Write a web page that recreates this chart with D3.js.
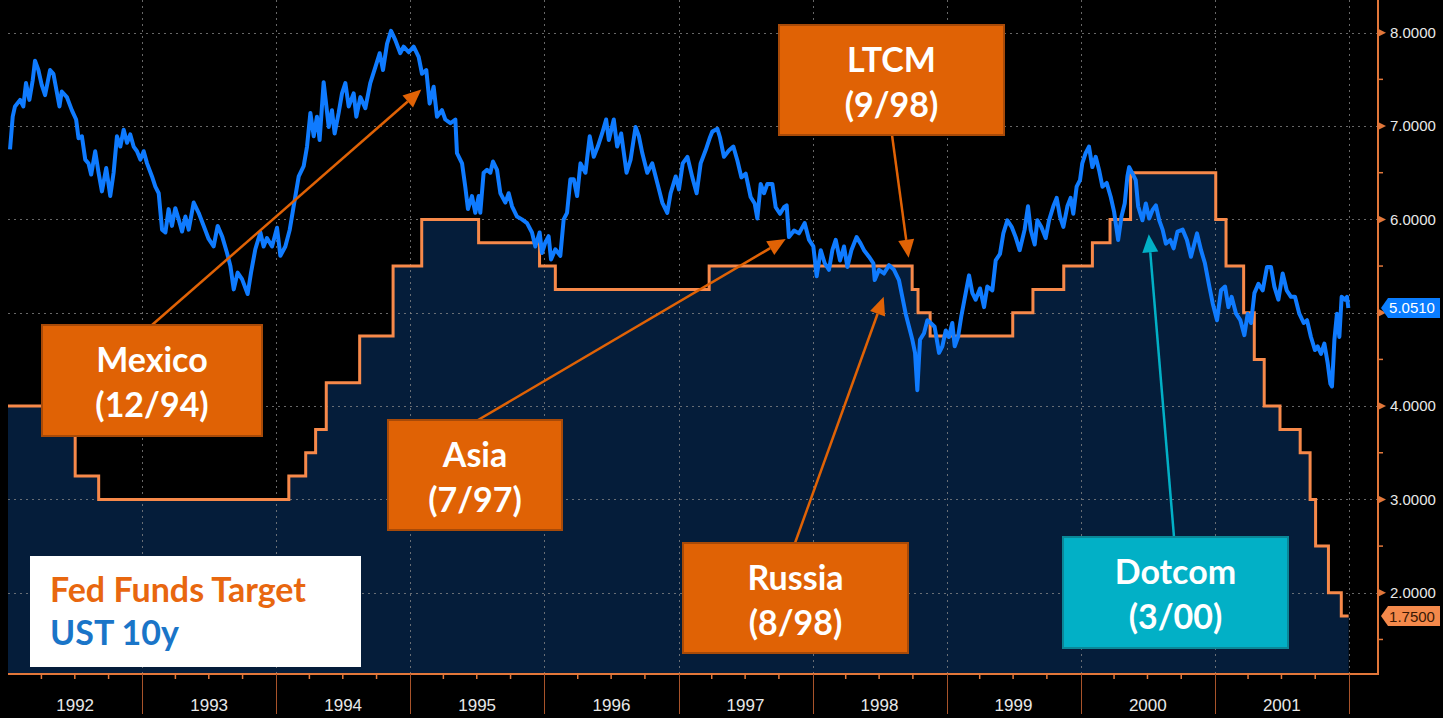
<!DOCTYPE html>
<html>
<head>
<meta charset="utf-8">
<script src="https://cdn.jsdelivr.net/npm/d3@7"></script>
<style>
  body { margin: 0; background: #000; }
  svg { display: block; }
</style>
</head>
<body>
<script>
// Fed funds target: date of each change and the new level (%)
const fedDates = ["1992-01-01","1992-07-02","1992-09-04","1994-02-04","1994-03-22","1994-04-18",
  "1994-05-17","1994-08-16","1994-11-15","1995-02-01","1995-07-06","1995-12-19","1996-01-31",
  "1997-03-25","1998-09-29","1998-10-15","1998-11-17","1999-06-30","1999-08-24","1999-11-16",
  "2000-02-02","2000-03-21","2000-05-16","2001-01-03","2001-01-31","2001-03-20","2001-04-18",
  "2001-05-15","2001-06-27","2001-08-21","2001-09-17","2001-10-02","2001-11-06","2001-12-11","2001-12-31"];
const fedRates = [4.00,3.25,3.00,3.25,3.50,3.75,4.25,4.75,5.50,6.00,5.75,5.50,5.25,5.50,5.25,5.00,
  4.75,5.00,5.25,5.50,5.75,6.00,6.50,6.00,5.50,5.00,4.50,4.00,3.75,3.50,3.00,2.50,2.00,1.75,1.75];

// UST 10y yield (decimal year, %)
const ustTimes = [1992.015,1992.035,1992.052,1992.090,1992.114,1992.134,1992.159,1992.184,1992.201,1992.226,
  1992.251,1992.276,1992.313,1992.338,1992.383,1992.400,1992.438,1992.475,1992.507,1992.525,1992.550,
  1992.575,1992.599,1992.619,1992.649,1992.674,1992.699,1992.731,1992.761,1992.786,1992.811,1992.836,
  1992.861,1992.886,1992.910,1992.935,1992.960,1992.985,1993.010,1993.035,1993.072,1993.097,1993.122,
  1993.147,1993.172,1993.196,1993.221,1993.246,1993.271,1993.296,1993.321,1993.346,1993.383,1993.420,
  1993.458,1993.495,1993.532,1993.562,1993.595,1993.632,1993.657,1993.682,1993.711,1993.744,1993.786,
  1993.811,1993.843,1993.881,1993.905,1993.930,1993.968,1994.005,1994.030,1994.067,1994.100,1994.129,
  1994.167,1994.204,1994.229,1994.254,1994.279,1994.303,1994.323,1994.353,1994.391,1994.415,1994.435,
  1994.465,1994.490,1994.515,1994.540,1994.577,1994.597,1994.627,1994.664,1994.701,1994.739,1994.771,
  1994.796,1994.826,1994.856,1994.888,1994.925,1994.950,1994.988,1995.025,1995.062,1995.087,1995.119,
  1995.144,1995.174,1995.199,1995.236,1995.261,1995.299,1995.336,1995.348,1995.386,1995.410,1995.430,
  1995.460,1995.485,1995.510,1995.522,1995.547,1995.572,1995.597,1995.617,1995.647,1995.672,1995.709,
  1995.734,1995.759,1995.796,1995.833,1995.871,1995.908,1995.933,1995.965,1995.983,1996.007,1996.032,
  1996.050,1996.082,1996.119,1996.144,1996.169,1996.194,1996.219,1996.244,1996.269,1996.306,1996.338,
  1996.368,1996.398,1996.430,1996.460,1996.480,1996.517,1996.542,1996.572,1996.612,1996.642,1996.679,
  1996.704,1996.729,1996.766,1996.803,1996.841,1996.878,1996.915,1996.940,1996.978,1997.002,1997.030,
  1997.065,1997.102,1997.134,1997.164,1997.201,1997.234,1997.251,1997.289,1997.308,1997.338,1997.376,
  1997.408,1997.438,1997.468,1997.500,1997.537,1997.567,1997.587,1997.612,1997.637,1997.662,1997.699,
  1997.724,1997.756,1997.786,1997.806,1997.823,1997.861,1997.898,1997.940,1997.973,1998.005,1998.030,
  1998.060,1998.090,1998.122,1998.147,1998.172,1998.204,1998.234,1998.259,1998.289,1998.328,1998.358,
  1998.383,1998.420,1998.453,1998.463,1998.495,1998.532,1998.570,1998.607,1998.644,1998.669,1998.694,
  1998.719,1998.744,1998.764,1998.781,1998.801,1998.831,1998.856,1998.881,1998.910,1998.943,1998.968,
  1998.993,1999.017,1999.042,1999.060,1999.085,1999.109,1999.142,1999.167,1999.192,1999.216,1999.249,
  1999.279,1999.303,1999.341,1999.366,1999.398,1999.423,1999.453,1999.485,1999.515,1999.545,1999.582,
  1999.607,1999.627,1999.657,1999.677,1999.706,1999.739,1999.764,1999.796,1999.821,1999.846,1999.871,
  1999.901,1999.925,1999.945,1999.970,1999.995,2000.012,2000.037,2000.062,2000.087,2000.112,2000.137,
  2000.162,2000.194,2000.224,2000.249,2000.279,2000.304,2000.328,2000.348,2000.361,2000.386,2000.410,
  2000.428,2000.460,2000.485,2000.510,2000.535,2000.560,2000.585,2000.610,2000.634,2000.667,2000.692,
  2000.721,2000.759,2000.791,2000.821,2000.866,2000.896,2000.925,2000.958,2000.983,2001.015,2001.045,
  2001.075,2001.100,2001.124,2001.157,2001.189,2001.219,2001.244,2001.269,2001.294,2001.324,2001.356,
  2001.388,2001.418,2001.443,2001.473,2001.505,2001.535,2001.567,2001.597,2001.629,2001.662,2001.687,
  2001.716,2001.746,2001.766,2001.791,2001.816,2001.841,2001.861,2001.873,2001.891,2001.910,2001.928,
  2001.945,2001.970,2001.985,2001.995];
const ustYields = [6.75,7.10,7.21,7.28,7.21,7.46,7.28,7.49,7.70,7.60,
  7.44,7.33,7.60,7.56,7.21,7.37,7.31,7.17,7.07,6.87,6.89,
  6.64,6.60,6.48,6.73,6.50,6.30,6.55,6.25,6.50,6.89,6.78,
  6.96,6.82,6.91,6.78,6.73,6.64,6.73,6.60,6.46,6.35,6.28,
  5.89,5.86,6.11,5.93,6.12,6.00,5.87,6.03,5.89,6.18,6.07,
  5.93,5.79,5.71,5.93,5.82,5.64,5.50,5.25,5.43,5.36,5.20,
  5.43,5.68,5.86,5.71,5.80,5.71,5.91,5.61,5.71,5.89,6.14,
  6.46,6.57,6.78,7.14,6.89,7.10,6.85,7.47,6.99,7.17,6.92,
  7.14,7.35,7.46,7.21,7.35,7.10,7.31,7.19,7.46,7.63,7.78,
  7.60,7.88,8.02,7.92,7.78,7.85,7.79,7.85,7.74,7.56,7.60,
  7.24,7.42,7.10,7.17,7.07,7.03,7.07,6.71,6.60,6.35,6.11,
  6.25,6.07,6.25,6.07,6.50,6.53,6.50,6.62,6.53,6.28,6.18,
  6.28,6.14,6.03,6.00,5.96,5.86,5.71,5.86,5.64,5.75,5.82,
  5.57,5.68,5.61,6.00,6.07,6.43,6.43,6.25,6.60,6.50,6.89,
  6.67,6.78,6.92,7.07,6.85,7.07,6.78,6.92,6.50,6.64,6.99,
  6.89,6.71,6.50,6.60,6.39,6.18,6.07,6.28,6.46,6.32,6.60,
  6.67,6.45,6.28,6.60,6.74,6.88,6.94,6.97,6.88,6.67,6.74,
  6.78,6.63,6.45,6.49,6.24,6.17,6.01,6.38,6.28,6.38,6.38,
  6.13,6.06,6.13,6.15,5.81,5.88,5.85,5.96,5.78,5.71,5.39,
  5.67,5.53,5.46,5.67,5.78,5.56,5.71,5.49,5.67,5.81,5.74,
  5.67,5.60,5.53,5.35,5.46,5.42,5.51,5.46,5.35,5.17,4.99,
  4.85,4.71,4.57,4.17,4.71,4.78,4.92,4.89,4.85,4.57,4.64,
  4.81,4.74,4.89,4.64,4.74,4.96,5.21,5.40,5.21,5.14,5.26,
  5.06,5.28,5.24,5.56,5.63,5.85,5.99,5.92,5.81,5.67,5.89,
  6.14,5.89,5.73,5.99,5.92,5.80,5.99,6.14,6.23,6.03,5.92,
  6.14,6.23,6.06,6.35,6.42,6.60,6.71,6.78,6.56,6.67,6.53,
  6.35,6.39,6.24,6.08,5.78,6.03,6.17,6.46,6.56,6.49,6.42,
  6.14,5.99,6.17,6.01,6.10,6.15,5.99,5.89,5.74,5.78,5.69,
  5.87,5.89,5.78,5.60,5.85,5.67,5.53,5.28,5.10,4.92,5.24,
  5.28,5.06,5.17,4.99,4.92,4.76,4.99,4.89,5.21,5.31,5.24,
  5.49,5.49,5.28,5.14,5.42,5.24,5.17,5.17,4.99,4.89,4.92,
  4.74,4.60,4.64,4.56,4.67,4.46,4.24,4.21,4.71,4.99,4.74,
  5.17,5.14,5.17,5.051];

const yearLabels = ["1992","1993","1994","1995","1996","1997","1998","1999","2000","2001"];
const yTickValues = [2, 3, 4, 5, 6, 7, 8];
const legendLabels = ["Fed Funds Target", "UST 10y"];
const eventNames = ["Mexico", "Asia", "LTCM", "Russia", "Dotcom"];
const eventDates = ["(12/94)", "(7/97)", "(9/98)", "(8/98)", "(3/00)"];

const W = 1443, H = 718;
const plot = { left: 8, right: 1378, top: 0, bottom: 674 };
const C = {
  bg: "#000000", area: "#051d3a", grid: "#8a8a8a", fed: "#f7894a", ust: "#0f7bff",
  axis: "#e2773a", yearTick: "#a8532a", label: "#e8e8e8",
  box: "#e06205", boxEdge: "#a84a08", teal: "#02b0c6", tealEdge: "#0b8797",
  legendOrange: "#e8670f", legendBlue: "#1a75c8"
};

const fromDecimal = t => {
  const yr = Math.floor(t);
  const a = Date.UTC(yr, 0, 1), b = Date.UTC(yr + 1, 0, 1);
  return new Date(a + (t - yr) * (b - a));
};
const parse = d3.utcParse("%Y-%m-%d");

const fed = fedDates.map((d, i) => ({ date: parse(d), v: fedRates[i] }));
const ust = ustTimes.map((t, i) => ({ date: fromDecimal(t), v: ustYields[i] }));
const lastUst = ustYields[ustYields.length - 1];
const lastFed = fedRates[fedRates.length - 1];

const x = d3.scaleUtc()
  .domain([new Date(Date.UTC(1992, 0, 1)), new Date(Date.UTC(2002, 2, 21))])
  .range([plot.left, plot.right]);
const y = d3.scaleLinear().domain([1.13, 8.35]).range([plot.bottom, plot.top]);

const svg = d3.select("body").append("svg").attr("width", W).attr("height", H);
svg.append("rect").attr("width", W).attr("height", H).attr("fill", C.bg);

// navy area under the fed funds step
svg.append("path")
  .datum(fed)
  .attr("d", d3.area().curve(d3.curveStepAfter)
    .x(d => x(d.date)).y0(plot.bottom).y1(d => y(d.v)))
  .attr("fill", C.area);

// dotted grid
const grid = svg.append("g").attr("stroke", C.grid).attr("stroke-opacity", 0.75)
  .attr("stroke-width", 1).attr("stroke-dasharray", "2,4");
grid.selectAll("line.h").data(yTickValues).join("line").attr("class", "h")
  .attr("x1", plot.left).attr("x2", plot.right)
  .attr("y1", d => Math.round(y(d)) + 0.5).attr("y2", d => Math.round(y(d)) + 0.5);
const yearStarts = d3.utcYear.range(new Date(Date.UTC(1993, 0, 1)), new Date(Date.UTC(2003, 0, 1)));
grid.selectAll("line.v").data(yearStarts).join("line").attr("class", "v")
  .attr("x1", d => Math.round(x(d)) + 0.5).attr("x2", d => Math.round(x(d)) + 0.5)
  .attr("y1", plot.top).attr("y2", plot.bottom);

// fed funds step line
svg.append("path")
  .datum(fed)
  .attr("d", d3.line().curve(d3.curveStepAfter).x(d => x(d.date)).y(d => y(d.v)))
  .attr("fill", "none").attr("stroke", C.fed).attr("stroke-width", 3);

// UST 10y
svg.append("path")
  .datum(ust)
  .attr("d", d3.line().x(d => x(d.date)).y(d => y(d.v)))
  .attr("fill", "none").attr("stroke", C.ust).attr("stroke-width", 4)
  .attr("stroke-linejoin", "round");

// right axis
const ax = svg.append("g");
ax.append("line").attr("x1", plot.right).attr("x2", plot.right)
  .attr("y1", plot.top).attr("y2", plot.bottom + 1)
  .attr("stroke", C.axis).attr("stroke-width", 2);
ax.selectAll("path.tri").data(yTickValues).join("path").attr("class", "tri")
  .attr("d", d => `M${plot.right},${y(d) - 4}L${plot.right + 8},${y(d)}L${plot.right},${y(d) + 4}Z`)
  .attr("fill", C.axis);
const halfTicks = d3.range(1.5, 8.5, 1);
ax.selectAll("line.minor").data(halfTicks).join("line").attr("class", "minor")
  .attr("x1", plot.right).attr("x2", plot.right + 5)
  .attr("y1", d => y(d)).attr("y2", d => y(d))
  .attr("stroke", C.axis).attr("stroke-width", 1.5);
// labels hidden behind the last-value tags are left out, as in the source
const shownTicks = yTickValues.filter(v =>
  Math.abs(y(v) - y(lastUst)) > 18 && Math.abs(y(v) - y(lastFed)) > 18);
ax.selectAll("text").data(shownTicks).join("text")
  .attr("x", plot.right + 12).attr("y", d => y(d))
  .attr("dy", "0.36em")
  .attr("fill", C.label)
  .style("font", "15px 'Liberation Sans', Arial, sans-serif")
  .text(d => d.toFixed(4));

// bottom axis
const bx = svg.append("g");
bx.append("line").attr("x1", plot.left).attr("x2", plot.right + 1)
  .attr("y1", plot.bottom).attr("y2", plot.bottom)
  .attr("stroke", C.axis).attr("stroke-width", 2);
const quarters = d3.utcMonth.every(3).range(x.domain()[0], x.domain()[1])
  .filter(d => d.getUTCMonth() !== 0);
bx.selectAll("line.q").data(quarters).join("line").attr("class", "q")
  .attr("x1", d => x(d)).attr("x2", d => x(d))
  .attr("y1", plot.bottom).attr("y2", plot.bottom + 5)
  .attr("stroke", C.axis).attr("stroke-width", 1.5);
bx.selectAll("line.yr").data(yearStarts).join("line").attr("class", "yr")
  .attr("x1", d => Math.round(x(d)) + 0.5).attr("x2", d => Math.round(x(d)) + 0.5)
  .attr("y1", plot.bottom).attr("y2", 714)
  .attr("stroke", C.yearTick).attr("stroke-width", 1);
bx.selectAll("text").data(yearLabels).join("text")
  .attr("x", d => x(new Date(Date.UTC(+d, 6, 2))))
  .attr("y", 711)
  .attr("text-anchor", "middle")
  .attr("fill", C.label)
  .style("font", "17px 'Liberation Sans Narrow', 'Arial Narrow', sans-serif")
  .text(d => d);

// last value tags
function tag(v, fill, textFill) {
  const ty = y(v), g = svg.append("g");
  g.append("path")
    .attr("d", `M${plot.right + 3},${ty}L${plot.right + 10},${ty - 10}L1440,${ty - 10}L1440,${ty + 10}L${plot.right + 10},${ty + 10}Z`)
    .attr("fill", fill);
  g.append("text").attr("x", 1412).attr("y", ty).attr("dy", "0.36em")
    .attr("text-anchor", "middle").attr("fill", textFill)
    .style("font", "15px 'Liberation Sans', Arial, sans-serif")
    .text(v.toFixed(4));
}
tag(lastUst, "#0a7dff", "#ffffff");
tag(lastFed, "#f4894b", "#3a1804");

// annotation boxes with arrows pointing into the data
const events = [
  { box: [42, 325, 220, 111], tip: [1995.082, 7.39], from: [152, 325], fill: C.box, edge: C.boxEdge },
  { box: [388, 420, 174, 110], tip: [1997.799, 5.79], from: [478, 420], fill: C.box, edge: C.boxEdge },
  { box: [779, 25, 225, 110], tip: [1998.716, 5.59], from: [892, 135], fill: C.box, edge: C.boxEdge },
  { box: [683, 543, 225, 110], tip: [1998.530, 5.17], from: [795, 543], fill: C.box, edge: C.boxEdge },
  { box: [1063, 537, 225, 111], tip: [2000.507, 5.84], from: [1174, 537], fill: C.teal, edge: C.tealEdge }
];

const ann = svg.append("g");
events.forEach((e, i) => {
  const tx = x(fromDecimal(e.tip[0])), ty = y(e.tip[1]);
  const [fx, fy] = e.from;
  const ang = Math.atan2(ty - fy, tx - fx);
  const hl = 18, hw = 8;
  const bxp = tx - hl * Math.cos(ang), byp = ty - hl * Math.sin(ang);
  const color = i === 4 ? C.teal : C.box;
  ann.append("line").attr("x1", fx).attr("y1", fy).attr("x2", bxp).attr("y2", byp)
    .attr("stroke", color).attr("stroke-width", 2.5);
  ann.append("path")
    .attr("d", `M${tx},${ty}L${bxp + hw * Math.sin(ang)},${byp - hw * Math.cos(ang)}L${bxp - hw * Math.sin(ang)},${byp + hw * Math.cos(ang)}Z`)
    .attr("fill", color);
});
events.forEach((e, i) => {
  const [bx0, by0, bw, bh] = e.box;
  ann.append("rect").attr("x", bx0).attr("y", by0).attr("width", bw).attr("height", bh)
    .attr("fill", e.fill).attr("stroke", e.edge).attr("stroke-width", 2);
  [eventNames[i], eventDates[i]].forEach((t, k) => {
    ann.append("text").attr("x", bx0 + bw / 2).attr("y", by0 + 47 + k * 45)
      .attr("text-anchor", "middle").attr("fill", "#ffffff")
      .style("font", "700 34px Lato, 'Open Sans', sans-serif")
      .text(t);
  });
});

// legend
const lg = svg.append("g");
lg.append("rect").attr("x", 30).attr("y", 556).attr("width", 331).attr("height", 111).attr("fill", "#ffffff");
lg.selectAll("text").data(legendLabels).join("text")
  .attr("x", 50).attr("y", (d, i) => 602 + i * 43)
  .attr("fill", (d, i) => i === 0 ? C.legendOrange : C.legendBlue)
  .style("font", "700 34px Lato, 'Open Sans', sans-serif")
  .text(d => d);
</script>
</body>
</html>
